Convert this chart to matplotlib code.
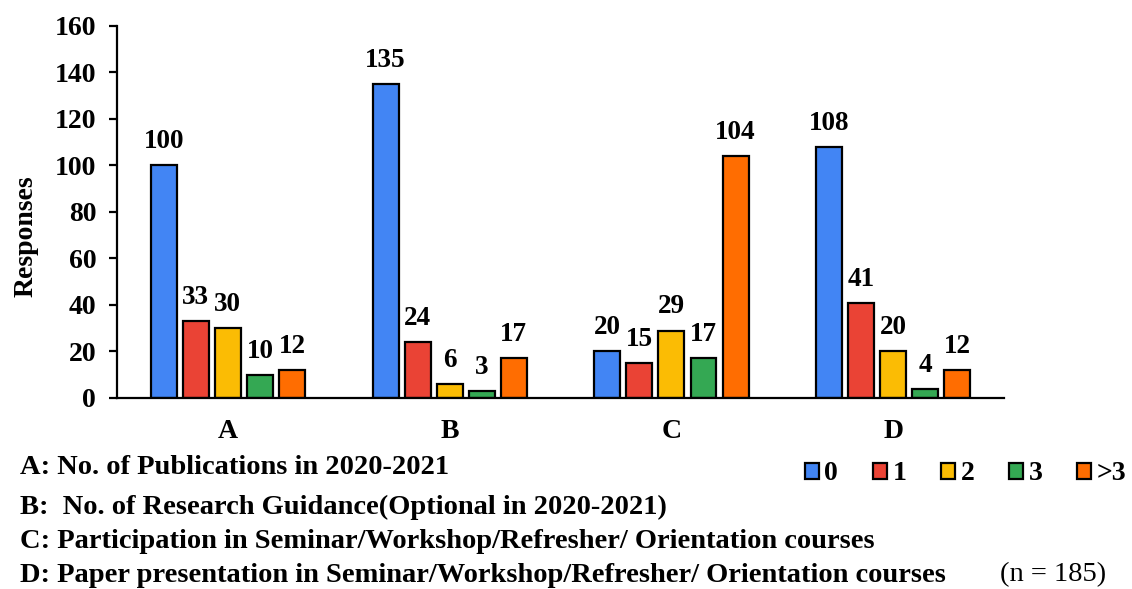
import numpy as np
import matplotlib.pyplot as plt
from matplotlib.patches import Patch

plt.rcParams["font.family"] = "Liberation Serif"
plt.rcParams["font.weight"] = "bold"

categories = ["A", "B", "C", "D"]
series_names = ["0", "1", "2", "3", ">3"]
values = {
    "0": [100, 135, 20, 108],
    "1": [33, 24, 15, 41],
    "2": [30, 6, 29, 20],
    "3": [10, 3, 17, 4],
    ">3": [12, 17, 104, 12],
}
colors = ["#4285F4", "#EA4335", "#FBBC04", "#34A853", "#FF6D01"]
y_ticks = [0, 20, 40, 60, 80, 100, 120, 140, 160]
notes = [
    "A: No. of Publications in 2020-2021",
    "B:  No. of Research Guidance(Optional in 2020-2021)",
    "C: Participation in Seminar/Workshop/Refresher/ Orientation courses",
    "D: Paper presentation in Seminar/Workshop/Refresher/ Orientation courses",
]

fig = plt.figure(figsize=(11.32, 5.89), dpi=100)
ax = fig.add_axes([0.1034, 0.3243, 0.7836, 0.6316])

x = np.arange(len(categories))
step = 0.1445
width = 0.117
for i, (name, col) in enumerate(zip(series_names, colors)):
    pos = x + (i - 2) * step
    bars = ax.bar(pos, values[name], width, color=col, edgecolor="black", linewidth=1.6, zorder=2)
    for b, v in zip(bars, values[name]):
        ax.annotate(str(v), (b.get_x() + b.get_width() / 2, v), xytext=(0, 8),
                    textcoords="offset points", ha="center", va="bottom",
                    fontsize=19.5, fontweight="bold")

ax.set_xlim(-0.5, 3.5)
ax.set_ylim(0, 160)
ax.set_yticks(y_ticks)
ax.set_xticks(x)
ax.set_xticklabels(categories, fontsize=20, fontweight="bold")
ax.tick_params(axis="x", length=0, pad=15)
ax.tick_params(axis="y", labelsize=20, length=6, width=1.6, pad=9)
ax.spines["top"].set_visible(False)
ax.spines["right"].set_visible(False)
ax.spines["left"].set_linewidth(1.6)
ax.spines["bottom"].set_linewidth(1.6)
ax.set_ylabel("Responses", fontsize=20, fontweight="bold")
ax.yaxis.set_label_coords(-0.088, 0.435)

handles = [Patch(facecolor=c, edgecolor="black", linewidth=1.6) for c in colors]
fig.legend(handles, series_names, loc="center left", bbox_to_anchor=(805 / 1132, 1 - 474 / 589),
           ncol=5, frameon=False, borderpad=0, borderaxespad=0,
           handlelength=0.5, handleheight=0.5, handletextpad=0.2,
           columnspacing=1.25, prop={"size": 20, "weight": "bold"})

note_y = [467, 507, 541, 575]
for t, yy in zip(notes, note_y):
    fig.text(20 / 1132, 1 - yy / 589, t, fontsize=20.5, fontweight="bold", va="center", ha="left")
fig.text(1000 / 1132, 1 - 575 / 589, "(n = 185)", fontsize=20.5, fontweight="normal", va="center", ha="left")

fig.savefig("out.png", dpi=100)
